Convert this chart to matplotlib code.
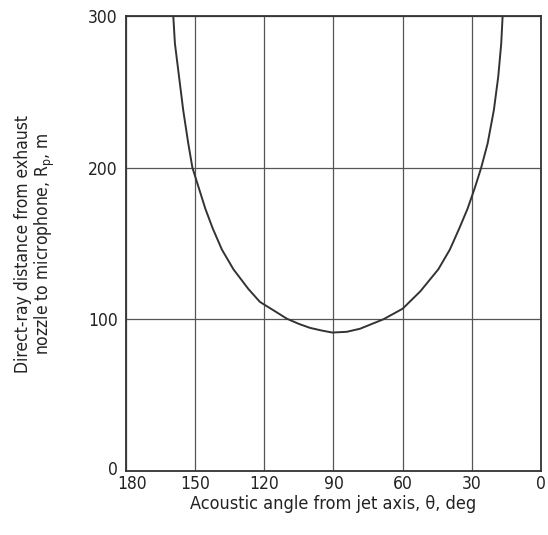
import matplotlib
matplotlib.use("Agg")
import matplotlib.pyplot as plt
from matplotlib.transforms import ScaledTranslation

# ---- data --------------------------------------------------------------
angle_deg = [159.5, 158.8, 157.0, 155.2, 153.0, 151.2, 148.5, 145.6, 142.4,
             138.4, 133.4, 126.9, 121.9, 115.0, 110.3, 105.0, 100.2, 95.0,
             90.5, 84.2, 78.5, 68.4, 60.0, 52.3, 48.0, 44.5, 39.5, 35.4,
             31.8, 28.6, 25.9, 23.1, 20.4, 18.5, 17.2, 16.6]
distance_m = [300, 282, 260, 238, 216, 200, 187, 173, 160,
              146, 133, 120, 111.5, 105, 100.5, 97, 94.4, 92.6,
              91.3, 91.8, 93.8, 100, 107, 118.5, 126.5, 133, 146, 160,
              173, 187, 200, 216, 238, 260, 282, 300]

x_ticks = [180, 150, 120, 90, 60, 30, 0]
y_ticks = [0, 100, 200, 300]

plt.rcParams["font.family"] = ["DejaVu Sans"]
plt.rcParams["font.stretch"] = "condensed"

fig = plt.figure(figsize=(5.48, 5.35), dpi=100)
ax = fig.add_axes([0.230, 0.1196, 0.757, 0.8504])

ax.plot(angle_deg, distance_m, color="#333333", linewidth=1.4, solid_capstyle="round")

ax.set_xlim(180, 0)
ax.set_ylim(0, 300)
ax.set_xticks(x_ticks)
ax.set_yticks(y_ticks)
ax.grid(True, color="#555555", linewidth=0.9)
ax.tick_params(direction="in", length=0, labelsize=12.5, colors="#222222")
ax.tick_params(axis="y", pad=6)
ax.tick_params(axis="x", pad=3)
for s in ax.spines.values():
    s.set_color("#333333")
    s.set_linewidth(1.3)

# nudge the "180" and "0" labels apart like the reference
fig.canvas.draw()
ax.get_xticklabels()[0].set_transform(
    ax.get_xticklabels()[0].get_transform() + ScaledTranslation(4 / 72, 0, fig.dpi_scale_trans))
ax.get_yticklabels()[0].set_transform(
    ax.get_yticklabels()[0].get_transform() + ScaledTranslation(0, 2 / 72, fig.dpi_scale_trans))

ax.set_xlabel("Acoustic angle from jet axis, \u03b8, deg", fontsize=13, color="#222222", labelpad=1)
ax.set_ylabel("Direct-ray distance from exhaust\nnozzle to microphone, R$_\\mathregular{p}$, m",
              fontsize=12.5, color="#222222", labelpad=22, linespacing=1.1)

fig.savefig("out.png", dpi=100)
